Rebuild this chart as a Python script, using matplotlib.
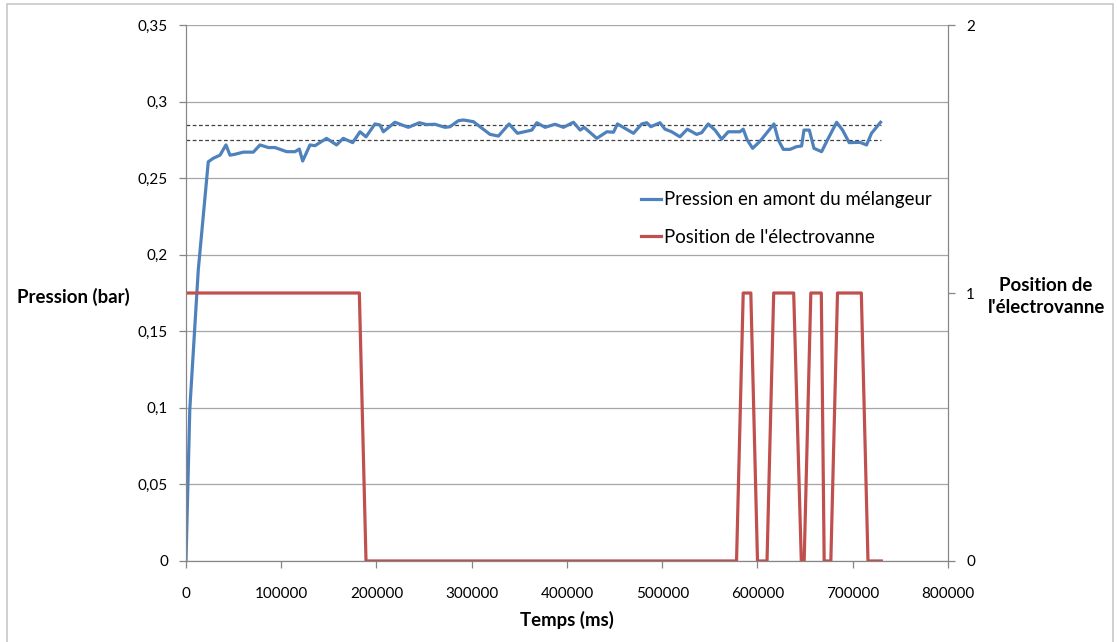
import matplotlib.pyplot as plt
from matplotlib.patches import Rectangle

plt.rcParams['font.family'] = ['Lato', 'DejaVu Sans']

# pression en amont du melangeur (bar) vs temps (ms)
t_pression = [0, 4000, 12900, 23400, 28700, 35700, 42000, 46200, 51400, 60200,
              70700, 77700, 86400, 93400, 105700, 114400, 119000, 122500, 130200, 135400,
              147600, 158100, 165100, 175000, 182700, 189000, 198400, 203700, 207200, 219400,
              233400, 245000, 252700, 261400, 271900, 277200, 285900, 291200, 301700, 319200,
              328000, 339200, 348000, 363100, 368300, 377000, 387500, 396300, 406800, 413800,
              418000, 431300, 441800, 448800, 453000, 469800, 478500, 483800, 488000, 497600,
              502900, 509900, 518600, 526300, 536100, 541400, 548300, 555400, 562400, 569300,
              581600, 585000, 589200, 594900, 602500, 617300, 621800, 627100, 634100, 641100,
              646300, 648800, 654400, 659300, 667300, 674300, 683100, 689300, 696300, 707500,
              714500, 719700, 729200]
pression = [0, 0.099, 0.190, 0.2607, 0.263, 0.265, 0.2717, 0.265, 0.2656, 0.267,
            0.267, 0.2717, 0.270, 0.270, 0.2673, 0.2673, 0.269, 0.2612, 0.2717, 0.2712,
            0.276, 0.2717, 0.276, 0.2732, 0.2803, 0.277, 0.2854, 0.2847, 0.2803, 0.2865,
            0.2832, 0.2862, 0.285, 0.2852, 0.2832, 0.2836, 0.2875, 0.288, 0.2869, 0.2786,
            0.2775, 0.2854, 0.2793, 0.2814, 0.2862, 0.2832, 0.2852, 0.2832, 0.2865, 0.2814,
            0.2832, 0.276, 0.2803, 0.280, 0.2854, 0.2793, 0.2854, 0.2862, 0.2836, 0.2862,
            0.282, 0.2803, 0.277, 0.282, 0.2786, 0.2797, 0.2854, 0.2814, 0.2755, 0.2803,
            0.2803, 0.282, 0.275, 0.2695, 0.274, 0.2854, 0.275, 0.2688, 0.2688, 0.2706,
            0.271, 0.2814, 0.2814, 0.2695, 0.2673, 0.276, 0.2865, 0.2814, 0.2732, 0.2734,
            0.2717, 0.2793, 0.2865]

# position de l'electrovanne (0 / 1)
t_vanne = [0, 182000, 189000, 578000, 585000, 593000, 600000, 610000, 617000, 638000,
           646000, 649000, 656000, 667000, 670000, 677000, 684000, 709000, 716000, 730000]
vanne = [1, 1, 0, 0, 1, 1, 0, 0, 1, 1,
         0, 0, 1, 1, 0, 0, 1, 1, 0, 0]

# limites de tolerance
t_limites = [0, 730000]
limite_haute = 0.285
limite_basse = 0.275

yticks_left = [0, 0.05, 0.1, 0.15, 0.2, 0.25, 0.3, 0.35]
yticklabels_left = ["0", "0,05", "0,1", "0,15", "0,2", "0,25", "0,3", "0,35"]
yticks_right = [0, 1, 2]
xticks = [0, 100000, 200000, 300000, 400000, 500000, 600000, 700000, 800000]

BLUE = "#4F81BD"
RED = "#C0504D"
GRID = "#A6A6A6"
SPINE = "#868686"
FS = 11
LFS = 13.4

fig = plt.figure(figsize=(11.17, 6.42), dpi=100)
fig.patches.append(Rectangle((0.006, -0.01), 0.99, 1.004, transform=fig.transFigure,
                             fill=False, edgecolor="#C8C8C8", lw=1.2))
ax = fig.add_axes([0.1665, 0.1262, 0.6822, 0.8348])
ax2 = ax.twinx()

ax.plot(t_limites, [limite_haute] * 2, "--", color="#404040", lw=0.9, dashes=(3, 2))
ax.plot(t_limites, [limite_basse] * 2, "--", color="#404040", lw=0.9, dashes=(3, 2))
l1, = ax.plot(t_pression, pression, color=BLUE, lw=2.3, solid_joinstyle="round",
              label="Pression en amont du mélangeur")
l2, = ax2.plot(t_vanne, vanne, color=RED, lw=2.3, label="Position de l'électrovanne")

ax.set_xlim(0, 800000)
ax.set_ylim(0, 0.35)
ax2.set_ylim(0, 2)
ax.set_xticks(xticks)
ax.set_xticklabels([str(x) for x in xticks], fontsize=FS)
ax.set_yticks(yticks_left)
ax.set_yticklabels(yticklabels_left, fontsize=FS)
ax2.set_yticks(yticks_right)
ax2.set_yticklabels([str(v) for v in yticks_right], fontsize=FS)

ax.grid(axis="y", color=GRID, lw=0.9)
ax.set_axisbelow(True)
for a in (ax, ax2):
    a.spines["top"].set_visible(False)
    for s in ("left", "right", "bottom"):
        a.spines[s].set_color(SPINE)
    a.tick_params(colors=SPINE, labelcolor="black", length=5, width=0.9)
ax.tick_params(axis="x", pad=14)
ax.tick_params(axis="y", pad=8)
ax2.tick_params(axis="y", pad=8)

ax.set_xlabel("Temps (ms)", fontsize=LFS, fontweight="bold", labelpad=7)
fig.text(0.066, 0.537, "Pression (bar)", fontsize=LFS, fontweight="bold",
         ha="center", va="center")
fig.text(0.9365, 0.538, "Position de\nl'électrovanne", fontsize=LFS, fontweight="bold",
         ha="center", va="center", linespacing=1.4)

ax2.legend([l1, l2], [l1.get_label(), l2.get_label()], frameon=False, fontsize=LFS,
           loc="upper left", bbox_to_anchor=(0.597, 0.69), borderpad=0, borderaxespad=0,
           handlelength=1.1, handletextpad=0.15, labelspacing=1.1)

fig.savefig("out.png", dpi=100)
